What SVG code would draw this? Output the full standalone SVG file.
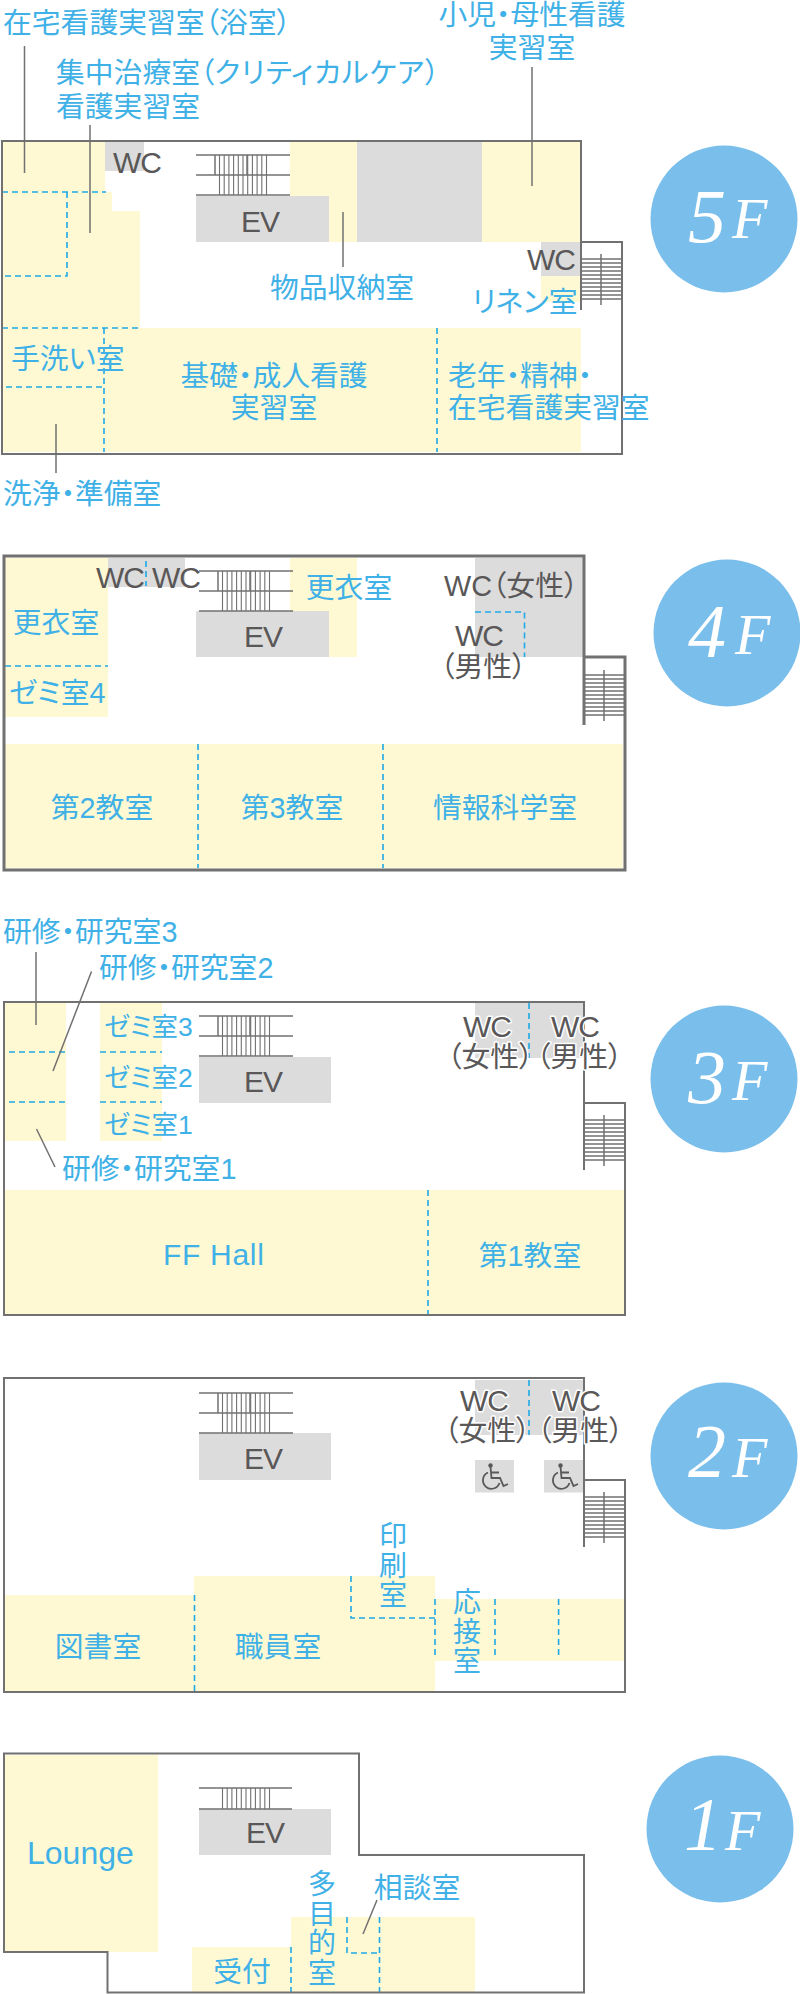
<svg xmlns="http://www.w3.org/2000/svg" xmlns:xlink="http://www.w3.org/1999/xlink" width="800" height="1994" viewBox="0 0 800 1994">
<style>
.y{fill:#fff9d3}
.g{fill:#dcdcdc}
.w{fill:none;stroke:#727171;stroke-width:2}
.w3{fill:none;stroke:#727171;stroke-width:3}
.l{fill:none;stroke:#727171;stroke-width:1.5}
.t{fill:none;stroke:#727171;stroke-width:1.1}
.d{fill:none;stroke:#1fa9e6;stroke-width:1.6;stroke-dasharray:6 4}
text{font-family:"Liberation Sans","Noto Sans CJK JP",sans-serif;font-size:28.8px;font-weight:400;font-feature-settings:"palt"}
.b{fill:#3fb1e6}
.k{fill:#595757}
.h{fill:#595757;paint-order:stroke;stroke:#fff;stroke-width:3px;stroke-linejoin:round}
.m{text-anchor:middle}
.e{font-size:30px;letter-spacing:-1px}
.z{font-size:26.5px}
.v{font-size:28px}
.c{fill:#7abeeb}
.n{fill:#fff;font-family:"Liberation Serif",serif;font-style:italic;font-weight:400}
.n1{font-size:76px}
.n2{font-size:58px}
</style>
<defs>
<g id="st1">
<path class="l" d="M0,0H94M0,20H94M0,40H94M19,0V20M51,0V20"/>
<path class="t" d="M23.500,0V40M28.200,0V40M32.900,0V40M37.600,0V40M42.300,0V40M47,0V40M51.700,0V40M56.400,0V40M61.100,0V40M65.800,0V40M70.500,0V40"/>
</g>
<g id="st2">
<path class="l" d="M0,0H40M0,4H40M0,8H40M0,12H40M0,16H40M0,20H40M0,24H40M0,28H40M0,32H40M0,36H40M0,40H40M20,-5V46"/>
</g>
<g id="wh">
<circle cx="8.500" cy="2.500" r="2.200" fill="#595757"/>
<path fill="none" stroke="#595757" stroke-width="1.800" d="M8.500,3.500L9.500,15H18L21.500,23L26,21M9,9.500H17M6,9.500A8.500,8.500 0 1 0 17.500,20"/>
</g>
</defs>

<g id="floor-5">
<path class="y" d="M3,142H105V192H112V211H140V328H581V452H3Z"/>
<path class="y" d="M290,142H357V242H329V196H290Z"/>
<rect class="y" x="482" y="142" width="98" height="100"/>
<rect class="y" x="541" y="276" width="39" height="26"/>
<rect class="g" x="105" y="142" width="39" height="29"/>
<rect class="g" x="357" y="142" width="125" height="100"/>
<rect class="g" x="196" y="196" width="133" height="46"/>
<rect class="g" x="541" y="242" width="39" height="34"/>
<path class="d" d="M2,192H106M67,192V276H2M2,328H140M104,328V452M6,387H104M437,328V452"/>
<path class="w" d="M581,310V141H2V454H622V242H581"/>
<use xlink:href="#st1" href="#st1" x="196" y="155"/>
<use xlink:href="#st2" href="#st2" x="581" y="259"/>
<path class="l" d="M24.500,46V173M90,125V233M343,212V267M56,424V473M532,67V186"/>
<text class="k e" x="113" y="173">WC</text>
<text class="k e m" x="260" y="232">EV</text>
<text class="k e" x="527" y="270">WC</text>
<text class="b" x="3" y="33">在宅看護実習室（浴室）</text>
<text class="b" x="56" y="83">集中治療室（<tspan letter-spacing="0.900">クリティカルケア</tspan>）</text>
<text class="b" x="56" y="117">看護実習室</text>
<text class="b" x="270" y="298">物品収納室</text>
<text class="b m" x="532" y="25">小児・母性看護</text>
<text class="b m" x="532" y="58">実習室</text>
<text class="b" x="472" y="312">リネン室</text>
<text class="b" x="11" y="369">手洗い室</text>
<text class="b m" x="274" y="386">基礎・成人看護</text>
<text class="b m" x="274" y="418">実習室</text>
<text class="b" x="448" y="386">老年・精神・</text>
<text class="b" x="448" y="418">在宅看護実習室</text>
<text class="b" x="3" y="504">洗浄・準備室</text>
<circle class="c" cx="724" cy="219" r="73.500"/>
<text class="n n1" x="688" y="242">5</text>
<text class="n n2" x="732" y="238">F</text>
</g>

<g id="floor-4">
<rect class="y" x="5" y="558" width="103" height="159"/>
<rect class="y" x="290" y="558" width="67" height="99"/>
<rect class="y" x="5" y="744" width="618" height="124"/>
<rect class="g" x="108" y="558" width="77" height="29"/>
<rect class="g" x="475" y="558" width="108" height="99"/>
<rect class="g" x="196" y="611" width="133" height="46"/>
<path class="d" d="M146,561V586M5,666H108M198,744V868M383,744V868M475,612H524.500V657"/>
<path class="w3" d="M584,725V556H4V870H625V657H584"/>
<use xlink:href="#st1" href="#st1" x="199" y="571"/>
<use xlink:href="#st2" href="#st2" x="584" y="675"/>
<text class="k e" x="96" y="588">WC</text>
<text class="k e" x="152" y="588">WC</text>
<text class="k e m" x="263" y="647">EV</text>
<text class="k" x="444" y="596">WC（女性）</text>
<text class="k e" x="455" y="646">WC</text>
<text class="k" x="440" y="677">（男性）</text>
<text class="b m" x="349" y="598">更衣室</text>
<text class="b m" x="56" y="633">更衣室</text>
<text class="b" x="9" y="703">ゼミ室4</text>
<text class="b m" x="102" y="818">第2教室</text>
<text class="b m" x="292" y="818">第3教室</text>
<text class="b m" x="505" y="818">情報科学室</text>
<circle class="c" cx="727" cy="633" r="73.500"/>
<text class="n n1" x="688" y="657">4</text>
<text class="n n2" x="735" y="654">F</text>
</g>

<g id="floor-3">
<rect class="y" x="5" y="1003" width="61" height="138"/>
<rect class="y" x="100" y="1003" width="62" height="138"/>
<rect class="y" x="5" y="1190" width="619" height="124"/>
<rect class="g" x="475" y="1003" width="109" height="55"/>
<rect class="g" x="199" y="1057" width="132" height="46"/>
<path class="d" d="M9,1052H66M100,1052H162M9,1102H66M100,1102H162M428,1190V1314M529,1003V1058"/>
<path class="w" d="M584,1170V1002H4V1315H625V1103H584"/>
<use xlink:href="#st1" href="#st1" x="199" y="1016"/>
<use xlink:href="#st2" href="#st2" x="584" y="1120"/>
<path class="l" d="M36,952V1025M91.500,971.500L53,1071M36.500,1129L55,1167"/>
<text class="k e m" x="263" y="1092">EV</text>
<text class="h e m" x="487" y="1037">WC</text>
<text class="h e m" x="575" y="1037">WC</text>
<text class="h" x="447" y="1067">（女性）</text>
<text class="h" x="536" y="1067">（男性）</text>
<text class="b" x="3" y="942">研修・研究室3</text>
<text class="b" x="99" y="978">研修・研究室2</text>
<text class="b" x="62" y="1179">研修・研究室1</text>
<text class="b z" x="104" y="1036">ゼミ室3</text>
<text class="b z" x="104" y="1087">ゼミ室2</text>
<text class="b z" x="104" y="1134">ゼミ室1</text>
<text class="b" x="163" y="1265" style="font-size:30px" letter-spacing="0.700">FF Hall</text>
<text class="b m" x="530" y="1266">第1教室</text>
<circle class="c" cx="724" cy="1079" r="73.500"/>
<text class="n n1" x="688" y="1103">3</text>
<text class="n n2" x="732" y="1100">F</text>
</g>

<g id="floor-2">
<rect class="y" x="5" y="1595" width="189" height="96"/>
<rect class="y" x="194" y="1576" width="241" height="115"/>
<rect class="y" x="435" y="1599" width="189" height="62"/>
<rect class="g" x="199" y="1433" width="132" height="47"/>
<rect class="g" x="475" y="1380" width="108" height="55"/>
<rect class="g" x="475" y="1460" width="39" height="32.500"/>
<rect class="g" x="544" y="1460" width="39" height="32.500"/>
<path class="d" d="M194.500,1595V1691M351,1576V1618H435M435,1599V1656M495,1599V1656M558.600,1599V1656M529,1380V1435"/>
<path class="w" d="M584,1547V1378H4V1692H625V1480H584"/>
<use xlink:href="#st1" href="#st1" x="199" y="1393"/>
<use xlink:href="#st2" href="#st2" x="584" y="1497"/>
<use xlink:href="#wh" href="#wh" x="482" y="1463"/>
<use xlink:href="#wh" href="#wh" x="552" y="1463"/>
<text class="k e m" x="263" y="1469">EV</text>
<text class="h e m" x="484" y="1411">WC</text>
<text class="h e m" x="576" y="1411">WC</text>
<text class="h" x="444" y="1441">（女性）</text>
<text class="h" x="537" y="1441">（男性）</text>
<text class="b m" x="98" y="1657">図書室</text>
<text class="b m" x="278" y="1657">職員室</text>
<text class="b m v"><tspan x="393" y="1546">印</tspan><tspan x="393" y="1575.500">刷</tspan><tspan x="393" y="1605">室</tspan></text>
<text class="b m v"><tspan x="467" y="1612">応</tspan><tspan x="467" y="1641.500">接</tspan><tspan x="467" y="1671">室</tspan></text>
<circle class="c" cx="724" cy="1456" r="73.500"/>
<text class="n n1" x="688" y="1477">2</text>
<text class="n n2" x="732" y="1477">F</text>
</g>

<g id="floor-1">
<rect class="y" x="5" y="1755" width="153" height="197"/>
<rect class="y" x="192" y="1947" width="99" height="45"/>
<rect class="y" x="291" y="1917" width="184" height="75"/>
<rect class="g" x="199" y="1809" width="132" height="46"/>
<path class="d" d="M291,1947V1992M347,1917V1953H380M379.500,1917V1992"/>
<path class="w" d="M4,1753.500H359V1855H584V1992.500H107.500V1952H4Z"/>
<path class="l" d="M199,1788H292M199,1809H292"/>
<path class="t" d="M222.500,1788V1809M227.200,1788V1809M231.900,1788V1809M236.600,1788V1809M241.300,1788V1809M246,1788V1809M250.700,1788V1809M255.400,1788V1809M260.100,1788V1809M264.800,1788V1809M269.500,1788V1809"/>
<path class="l" d="M377,1900L363,1934"/>
<text class="k e m" x="265" y="1843">EV</text>
<text class="b" x="27" y="1864" style="font-size:32px">Lounge</text>
<text class="b m" x="242" y="1982">受付</text>
<text class="b m v"><tspan x="322" y="1894">多</tspan><tspan x="322" y="1923.500">目</tspan><tspan x="322" y="1953">的</tspan><tspan x="322" y="1982.500">室</tspan></text>
<text class="b m" x="417" y="1897.500">相談室</text>
<circle class="c" cx="720" cy="1829" r="73.500"/>
<text class="n n1" x="684" y="1850">1</text>
<text class="n n2" x="725" y="1850">F</text>
</g>
</svg>
